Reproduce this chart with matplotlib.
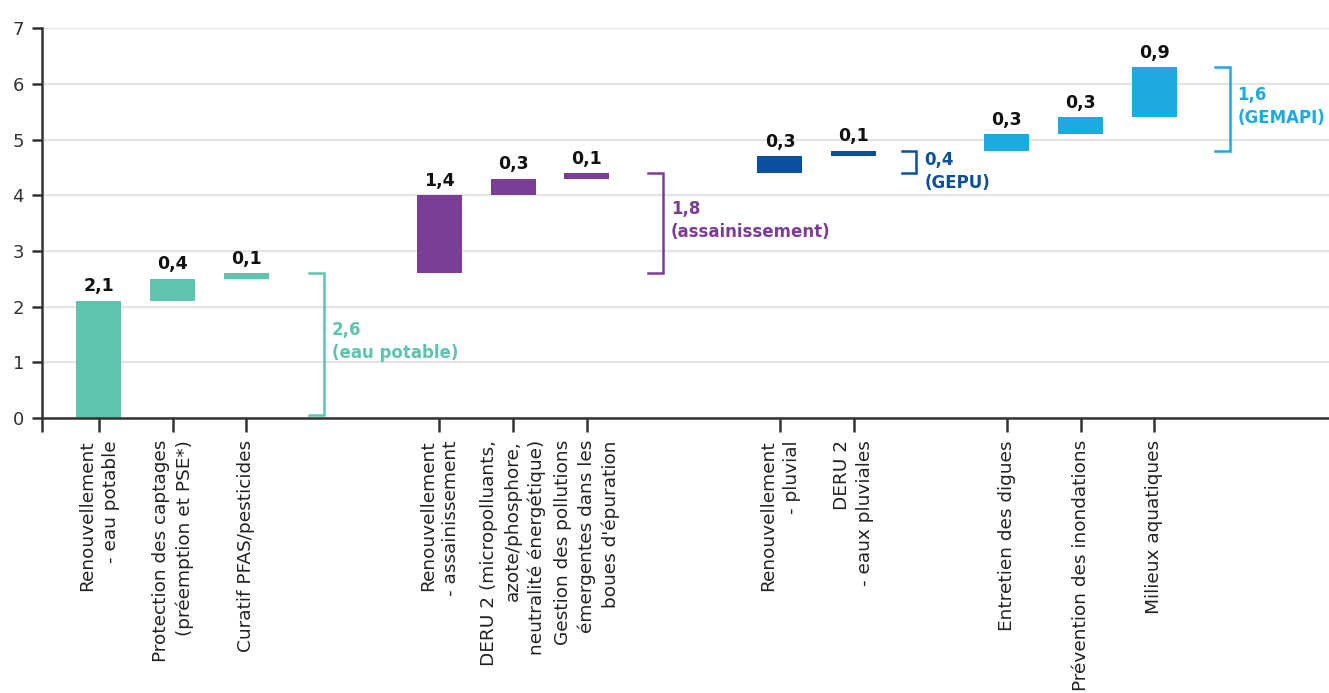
import matplotlib
matplotlib.use("Agg")
import matplotlib.pyplot as plt

# Data (Md€ / an)
categories = [
    "Renouvellement\n- eau potable",
    "Protection des captages\n(préemption et PSE*)",
    "Curatif PFAS/pesticides",
    "Renouvellement\n- assainissement",
    "DERU 2 (micropolluants,\nazote/phosphore,\nneutralité énergétique)",
    "Gestion des pollutions\némergentes dans les\nboues d'épuration",
    "Renouvellement\n- pluvial",
    "DERU 2\n- eaux pluviales",
    "Entretien des digues",
    "Prévention des inondations",
    "Milieux aquatiques",
]
increments = [2.1, 0.4, 0.1, 1.4, 0.3, 0.1, 0.3, 0.1, 0.3, 0.3, 0.9]
group_sizes = [3, 3, 2, 3]
group_names = ["eau potable", "assainissement", "GEPU", "GEMAPI"]
group_totals = [2.6, 1.8, 0.4, 1.6]
group_colors = ["#5EC4AD", "#7B3D96", "#0B4F9F", "#1DA9E1"]

# layout
group_gaps = [2.62, 2.62, 2.08]
bracket_offsets = [1.05, 1.03, 0.85, 1.02]
label_va = ["center", "center", "top", "center"]

plt.rcParams["font.family"] = ["DejaVu Sans"]

# x positions
xs = []
x = 0.0
for g, n in enumerate(group_sizes):
    for i in range(n):
        xs.append(x)
        x += 1
    if g < len(group_gaps):
        x += group_gaps[g] - 1

colors = []
for g, n in enumerate(group_sizes):
    colors += [group_colors[g]] * n

bottoms = []
total = 0.0
for v in increments:
    bottoms.append(total)
    total += v

fig = plt.figure(figsize=(13.29, 6.93), dpi=100)
ax = fig.add_axes([0.0316, 0.397, 0.9684, 0.562])

ax.bar(xs, increments, bottom=bottoms, width=0.61, color=colors, zorder=3)

for xi, b, v in zip(xs, bottoms, increments):
    ax.annotate(f"{v:.1f}".replace(".", ","), (xi, b + v), xytext=(0, 4),
                textcoords="offset points", ha="center", va="bottom",
                fontsize=12.5, fontweight="bold", color="#111111")

# brackets per group
start = 0
for g, n in enumerate(group_sizes):
    y0 = bottoms[start]
    y1 = bottoms[start + n - 1] + increments[start + n - 1]
    xb = xs[start + n - 1] + bracket_offsets[g]
    yb0 = max(y0, 0.05)
    ax.plot([xb - 0.2, xb, xb, xb - 0.2], [yb0, yb0, y1, y1],
            color=group_colors[g], lw=1.8, solid_joinstyle="miter",
            clip_on=False, zorder=2)
    txt = f"{group_totals[g]:.1f}".replace(".", ",") + f"\n({group_names[g]})"
    ty = (yb0 + y1) / 2 + 0.05 if label_va[g] == "center" else y1
    ax.text(xb + 0.11, ty, txt, ha="left", va=label_va[g], fontsize=12,
            fontweight="bold", color=group_colors[g], linespacing=1.4,
            clip_on=False)
    start += n

ax.set_xlim(-0.773, 16.69)
ax.set_ylim(0, 7)
ax.set_yticks(range(0, 8))
ax.tick_params(axis="y", length=7, width=1.8, color="#333333", pad=6,
               labelsize=13, labelcolor="#333333")
ax.set_xticks(xs + [-0.773])
ax.set_xticklabels(categories + [""], rotation=90, fontsize=13.3,
                   color="#222222", multialignment="right", linespacing=1.4)
ax.tick_params(axis="x", length=10, width=1.8, color="#333333", pad=6)

ax.grid(axis="y", color="#e3e3e3", lw=1.5, zorder=0)
ax.set_axisbelow(True)
for s in ["top", "right"]:
    ax.spines[s].set_visible(False)
for s in ["left", "bottom"]:
    ax.spines[s].set_color("#333333")
    ax.spines[s].set_linewidth(1.8)
    ax.spines[s].set_zorder(4)

plt.savefig("out.png", dpi=100)
